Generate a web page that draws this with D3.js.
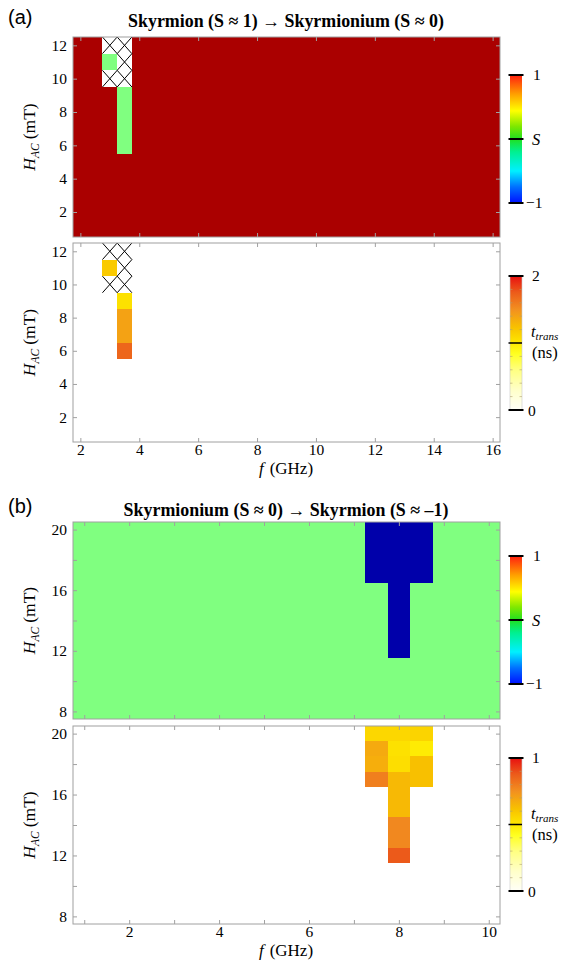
<!DOCTYPE html>
<html><head><meta charset="utf-8">
<script src="https://cdn.jsdelivr.net/npm/d3@7/dist/d3.min.js"></script>
<style>body{margin:0;background:#fff} svg{display:block}</style>
</head><body>
<svg id="c" width="563" height="967"></svg>
<script>
const X = "X";   // crossed (no result) cell
const _ = null;  // no transition / empty cell

// ---------- Panel (a) ----------
const titleA = "Skyrmion (S \u2248 1) \u2192 Skyrmionium (S \u2248 0)";
const freqA = [2,2.5,3,3.5,4,4.5,5,5.5,6,6.5,7,7.5,8,8.5,9,9.5,10,10.5,11,11.5,12,12.5,13,13.5,14,14.5,15,15.5,16];
const fieldA = [12,11,10,9,8,7,6,5,4,3,2,1];
const sA = [
  [1,1,X,X, 1,1,1,1,1, 1,1,1,1,1, 1,1,1,1,1, 1,1,1,1,1, 1,1,1,1,1],
  [1,1,0,X, 1,1,1,1,1, 1,1,1,1,1, 1,1,1,1,1, 1,1,1,1,1, 1,1,1,1,1],
  [1,1,X,X, 1,1,1,1,1, 1,1,1,1,1, 1,1,1,1,1, 1,1,1,1,1, 1,1,1,1,1],
  [1,1,1,0, 1,1,1,1,1, 1,1,1,1,1, 1,1,1,1,1, 1,1,1,1,1, 1,1,1,1,1],
  [1,1,1,0, 1,1,1,1,1, 1,1,1,1,1, 1,1,1,1,1, 1,1,1,1,1, 1,1,1,1,1],
  [1,1,1,0, 1,1,1,1,1, 1,1,1,1,1, 1,1,1,1,1, 1,1,1,1,1, 1,1,1,1,1],
  [1,1,1,0, 1,1,1,1,1, 1,1,1,1,1, 1,1,1,1,1, 1,1,1,1,1, 1,1,1,1,1],
  [1,1,1,1, 1,1,1,1,1, 1,1,1,1,1, 1,1,1,1,1, 1,1,1,1,1, 1,1,1,1,1],
  [1,1,1,1, 1,1,1,1,1, 1,1,1,1,1, 1,1,1,1,1, 1,1,1,1,1, 1,1,1,1,1],
  [1,1,1,1, 1,1,1,1,1, 1,1,1,1,1, 1,1,1,1,1, 1,1,1,1,1, 1,1,1,1,1],
  [1,1,1,1, 1,1,1,1,1, 1,1,1,1,1, 1,1,1,1,1, 1,1,1,1,1, 1,1,1,1,1],
  [1,1,1,1, 1,1,1,1,1, 1,1,1,1,1, 1,1,1,1,1, 1,1,1,1,1, 1,1,1,1,1]
];
const tA = [
  [_,_,X,X, _,_,_,_,_, _,_,_,_,_, _,_,_,_,_, _,_,_,_,_, _,_,_,_,_],
  [_,_,1.18,X, _,_,_,_,_, _,_,_,_,_, _,_,_,_,_, _,_,_,_,_, _,_,_,_,_],
  [_,_,X,X, _,_,_,_,_, _,_,_,_,_, _,_,_,_,_, _,_,_,_,_, _,_,_,_,_],
  [_,_,_,1.04, _,_,_,_,_, _,_,_,_,_, _,_,_,_,_, _,_,_,_,_, _,_,_,_,_],
  [_,_,_,1.40, _,_,_,_,_, _,_,_,_,_, _,_,_,_,_, _,_,_,_,_, _,_,_,_,_],
  [_,_,_,1.40, _,_,_,_,_, _,_,_,_,_, _,_,_,_,_, _,_,_,_,_, _,_,_,_,_],
  [_,_,_,1.70, _,_,_,_,_, _,_,_,_,_, _,_,_,_,_, _,_,_,_,_, _,_,_,_,_],
  [_,_,_,_, _,_,_,_,_, _,_,_,_,_, _,_,_,_,_, _,_,_,_,_, _,_,_,_,_],
  [_,_,_,_, _,_,_,_,_, _,_,_,_,_, _,_,_,_,_, _,_,_,_,_, _,_,_,_,_],
  [_,_,_,_, _,_,_,_,_, _,_,_,_,_, _,_,_,_,_, _,_,_,_,_, _,_,_,_,_],
  [_,_,_,_, _,_,_,_,_, _,_,_,_,_, _,_,_,_,_, _,_,_,_,_, _,_,_,_,_],
  [_,_,_,_, _,_,_,_,_, _,_,_,_,_, _,_,_,_,_, _,_,_,_,_, _,_,_,_,_]
];
const xTicksA = [2,4,6,8,10,12,14,16];
const xLabelsA = [2,4,6,8,10,12,14,16];
const yTicksA = [2,4,6,8,10,12];
const yLabelsA = [2,4,6,8,10,12];
const tMaxA = 2;
const tBarLabelsA = [0,2];

// ---------- Panel (b) ----------
const titleB = "Skyrmionium (S \u2248 0) \u2192 Skyrmion (S \u2248 \u20131)";
const freqB = [1,1.5,2,2.5,3,3.5,4,4.5,5,5.5,6,6.5,7,7.5,8,8.5,9,9.5,10];
const fieldB = [20,19,18,17,16,15,14,13,12,11,10,9,8];
const sB = [
  [0,0,0,0,0, 0,0,0,0,0, 0,0,0,-1,-1,-1,0,0,0],
  [0,0,0,0,0, 0,0,0,0,0, 0,0,0,-1,-1,-1,0,0,0],
  [0,0,0,0,0, 0,0,0,0,0, 0,0,0,-1,-1,-1,0,0,0],
  [0,0,0,0,0, 0,0,0,0,0, 0,0,0,-1,-1,-1,0,0,0],
  [0,0,0,0,0, 0,0,0,0,0, 0,0,0,0,-1,0,0,0,0],
  [0,0,0,0,0, 0,0,0,0,0, 0,0,0,0,-1,0,0,0,0],
  [0,0,0,0,0, 0,0,0,0,0, 0,0,0,0,-1,0,0,0,0],
  [0,0,0,0,0, 0,0,0,0,0, 0,0,0,0,-1,0,0,0,0],
  [0,0,0,0,0, 0,0,0,0,0, 0,0,0,0,-1,0,0,0,0],
  [0,0,0,0,0, 0,0,0,0,0, 0,0,0,0,0,0,0,0,0],
  [0,0,0,0,0, 0,0,0,0,0, 0,0,0,0,0,0,0,0,0],
  [0,0,0,0,0, 0,0,0,0,0, 0,0,0,0,0,0,0,0,0],
  [0,0,0,0,0, 0,0,0,0,0, 0,0,0,0,0,0,0,0,0]
];
const tB = [
  [_,_,_,_,_, _,_,_,_,_, _,_,_,0.55,0.55,0.56,_,_,_],
  [_,_,_,_,_, _,_,_,_,_, _,_,_,0.68,0.52,0.49,_,_,_],
  [_,_,_,_,_, _,_,_,_,_, _,_,_,0.67,0.53,0.62,_,_,_],
  [_,_,_,_,_, _,_,_,_,_, _,_,_,0.79,0.64,0.62,_,_,_],
  [_,_,_,_,_, _,_,_,_,_, _,_,_,_,0.64,_,_,_,_],
  [_,_,_,_,_, _,_,_,_,_, _,_,_,_,0.64,_,_,_,_],
  [_,_,_,_,_, _,_,_,_,_, _,_,_,_,0.77,_,_,_,_],
  [_,_,_,_,_, _,_,_,_,_, _,_,_,_,0.77,_,_,_,_],
  [_,_,_,_,_, _,_,_,_,_, _,_,_,_,0.88,_,_,_,_],
  [_,_,_,_,_, _,_,_,_,_, _,_,_,_,_,_,_,_,_],
  [_,_,_,_,_, _,_,_,_,_, _,_,_,_,_,_,_,_,_],
  [_,_,_,_,_, _,_,_,_,_, _,_,_,_,_,_,_,_,_],
  [_,_,_,_,_, _,_,_,_,_, _,_,_,_,_,_,_,_,_]
];
const xTicksB = [1,2,3,4,5,6,7,8,9,10];
const xLabelsB = [2,4,6,8,10];
const yTicksB = [8,10,12,14,16,18,20];
const yLabelsB = [8,12,16,20];
const tMaxB = 1;
const tBarLabelsB = [0,1];

// colour maps
const sCellDomain = [-1,0,1];
const sCellColors = ["#0000aa","#80ff80","#aa0000"];
const sBarStops = [[0,"#0010ff"],[0.125,"#0070ff"],[0.25,"#00f0ff"],[0.4,"#00f090"],[0.5,"#20e020"],[0.6,"#80e800"],[0.72,"#ffff00"],[0.85,"#ffa000"],[1,"#ff2010"]];
const tStops = [[0,"#fffff8"],[0.15,"#ffffc8"],[0.3,"#ffff80"],[0.42,"#ffff20"],[0.5,"#fee800"],[0.62,"#f8c000"],[0.75,"#f29020"],[0.88,"#ec5a1a"],[1,"#e81010"]];

const svg = d3.select("#c");
const defs = svg.append("defs");
const SERIF = "'Liberation Serif','Times New Roman',serif";
const SANS = "'Liberation Sans',Arial,sans-serif";
const FRAME = "#a0a0a0";

function gradient(id, stops){
  const g = defs.append("linearGradient").attr("id", id)
    .attr("x1",0).attr("y1",1).attr("x2",0).attr("y2",0);
  stops.forEach(s => g.append("stop").attr("offset", s[0]).attr("stop-color", s[1]));
}
gradient("gS", sBarStops);
gradient("gT", tStops);

const sColor = d3.scaleLinear().domain(sCellDomain).range(sCellColors);
function tColorFor(max){
  return d3.scaleLinear().domain(tStops.map(s => s[0]*max)).range(tStops.map(s => s[1])).clamp(true);
}

function heatmap(o){
  const step = o.freq[1]-o.freq[0];
  const x = d3.scaleLinear().domain([o.freq[0]-step/2, o.freq[o.freq.length-1]+step/2]).range([o.x0,o.x1]);
  const fmin = d3.min(o.field), fmax = d3.max(o.field);
  const y = d3.scaleLinear().domain([fmin-0.5, fmax+0.5]).range([o.y1,o.y0]);
  const g = svg.append("g");
  const cells = [];
  o.values.forEach((row,i) => row.forEach((v,j) => {
    if (v !== null) cells.push({f:o.freq[j], h:o.field[i], v});
  }));
  const cg = g.append("g").attr("shape-rendering","crispEdges");
  cg.selectAll("rect").data(cells).join("rect")
    .attr("x", d => x(d.f-step/2)).attr("y", d => y(d.h+0.5))
    .attr("width", d => x(d.f+step/2)-x(d.f-step/2))
    .attr("height", d => y(d.h-0.5)-y(d.h+0.5))
    .attr("fill", d => d.v === X ? "#fff" : o.color(d.v));
  const crossed = cells.filter(d => d.v === X);
  const xg = g.append("g").attr("stroke","#000").attr("stroke-width",1);
  crossed.forEach(d => {
    const a = x(d.f-step/2), b = x(d.f+step/2), c = y(d.h+0.5), e = y(d.h-0.5);
    xg.append("line").attr("x1",a).attr("y1",c).attr("x2",b).attr("y2",e);
    xg.append("line").attr("x1",a).attr("y1",e).attr("x2",b).attr("y2",c);
  });
  g.append("rect").attr("x",o.x0).attr("y",o.y0).attr("width",o.x1-o.x0).attr("height",o.y1-o.y0)
    .attr("fill","none").attr("stroke",FRAME).attr("stroke-width",1);
  const fmtX = d => o.xLabels.includes(d) ? d : "";
  const fmtY = d => o.yLabels.includes(d) ? d : "";
  const axes = [
    [d3.axisLeft(y).tickValues(o.yTicks).tickFormat(fmtY), `translate(${o.x0},0)`, "l"],
    [d3.axisRight(y).tickValues(o.yTicks).tickFormat(""), `translate(${o.x1},0)`, "r"],
    [d3.axisTop(x).tickValues(o.xTicks).tickFormat(""), `translate(0,${o.y0})`, "t"],
    [d3.axisBottom(x).tickValues(o.xTicks).tickFormat(o.showX ? fmtX : ""), `translate(0,${o.y1})`, "b"]
  ];
  axes.forEach(([ax,tr,side]) => {
    const a = g.append("g").attr("transform",tr)
      .call(ax.tickSizeInner(-4).tickSizeOuter(0).tickPadding(side === "b" ? 2 : 6));
    a.select(".domain").remove();
    a.selectAll(".tick line").attr("stroke",FRAME);
    a.selectAll(".tick text").attr("font-family",SERIF).attr("font-size",15.5).attr("fill","#000");
  });
  const yl = g.append("text").attr("transform",`translate(${o.ylx},${(o.y0+o.y1)/2}) rotate(-90)`)
    .attr("text-anchor","middle").attr("font-family",SERIF).attr("font-size",17.5);
  yl.append("tspan").attr("font-style","italic").text("H");
  yl.append("tspan").attr("font-style","italic").attr("font-size",11.5).attr("dy",4).text("AC");
  yl.append("tspan").attr("dy",-4).attr("dx",4).text("(mT)");
  return {x,y};
}

function sBar(x0,y0,y1){
  const w = 12, g = svg.append("g");
  const s = d3.scaleLinear().domain([-1,1]).range([y1,y0]);
  g.append("rect").attr("x",x0).attr("y",y0).attr("width",w).attr("height",y1-y0).attr("fill","url(#gS)");
  [-1,0,1].forEach(v => g.append("line").attr("x1",x0-1.5).attr("x2",x0+w+1.5)
    .attr("y1",s(v)).attr("y2",s(v)).attr("stroke","#000").attr("stroke-width",2));
  g.append("text").attr("x",x0+23).attr("y",s(1)+5).attr("font-family",SERIF).attr("font-size",15.5).text("1");
  g.append("text").attr("x",x0+16).attr("y",s(-1)+5).attr("font-family",SERIF).attr("font-size",15.5).text("\u22121");
  g.append("text").attr("x",x0+22).attr("y",s(0)+6).attr("font-family",SERIF).attr("font-size",16.5)
    .attr("font-style","italic").text("S");
}

function tBar(x0,y0,y1,max,labels){
  const w = 12, g = svg.append("g");
  const s = d3.scaleLinear().domain([0,max]).range([y1,y0]);
  g.append("rect").attr("x",x0).attr("y",y0).attr("width",w).attr("height",y1-y0)
    .attr("fill","url(#gT)").attr("stroke","#c8c8c8").attr("stroke-width",0.6);
  d3.range(1,10).forEach(k => {
    const yy = s(max*k/10);
    g.append("line").attr("x1",x0).attr("x2",x0+2.5).attr("y1",yy).attr("y2",yy).attr("stroke","#b0a070").attr("stroke-width",0.6);
    g.append("line").attr("x1",x0+w-2.5).attr("x2",x0+w).attr("y1",yy).attr("y2",yy).attr("stroke","#b0a070").attr("stroke-width",0.6);
  });
  [0,max/2,max].forEach(v => g.append("line").attr("x1",x0-1.5).attr("x2",x0+w+(v===max/2?0:1.5))
    .attr("y1",s(v)).attr("y2",s(v)).attr("stroke","#000").attr("stroke-width",v===max/2?1.5:2));
  g.append("text").attr("x",x0+22).attr("y",s(labels[1])+5).attr("font-family",SERIF).attr("font-size",15.5).text(labels[1]);
  g.append("text").attr("x",x0+18).attr("y",s(labels[0])+6).attr("font-family",SERIF).attr("font-size",15.5).text(labels[0]);
  const t = g.append("text").attr("x",x0+21).attr("y",s(max/2)-6).attr("font-family",SERIF).attr("font-size",16.5);
  t.append("tspan").attr("font-style","italic").text("t");
  t.append("tspan").attr("font-style","italic").attr("font-size",11).attr("dy",3).text("trans");
  g.append("text").attr("x",x0+22).attr("y",s(max/2)+15).attr("font-family",SERIF).attr("font-size",16.5).text("(ns)");
}

function label(txt,x,y){
  svg.append("text").attr("x",x).attr("y",y).attr("font-family",SANS).attr("font-size",20).text(txt);
}
function title(txt,x,y){
  svg.append("text").attr("x",x).attr("y",y).attr("text-anchor","middle").attr("font-family",SERIF)
    .attr("font-weight","bold").attr("font-size",17.9).text(txt);
}
function xlabel(x,y){
  const t = svg.append("text").attr("x",x).attr("y",y).attr("text-anchor","middle").attr("font-family",SERIF).attr("font-size",17);
  t.append("tspan").attr("font-style","italic").text("f");
  t.append("tspan").attr("dx",6).text("(GHz)");
}

// Panel (a)
label("(a)",8,24);
title(titleA,286,27);
heatmap({freq:freqA, field:fieldA, values:sA, color:sColor, x0:73, x1:500, y0:37, y1:237,
  xTicks:xTicksA, xLabels:xLabelsA, yTicks:yTicksA, yLabels:yLabelsA, showX:false, ylx:35});
sBar(510,75,203);
heatmap({freq:freqA, field:fieldA, values:tA, color:tColorFor(tMaxA), x0:73, x1:500, y0:243, y1:442,
  xTicks:xTicksA, xLabels:xLabelsA, yTicks:yTicksA, yLabels:yLabelsA, showX:true, ylx:35});
tBar(510,276,410,tMaxA,tBarLabelsA);
xlabel(286,474);

// Panel (b)
label("(b)",8,513);
title(titleB,286,516);
heatmap({freq:freqB, field:fieldB, values:sB, color:sColor, x0:73, x1:500, y0:522, y1:719,
  xTicks:xTicksB, xLabels:xLabelsB, yTicks:yTicksB, yLabels:yLabelsB, showX:false, ylx:35});
sBar(510,556,684);
heatmap({freq:freqB, field:fieldB, values:tB, color:tColorFor(tMaxB), x0:73, x1:500, y0:726, y1:924,
  xTicks:xTicksB, xLabels:xLabelsB, yTicks:yTicksB, yLabels:yLabelsB, showX:true, ylx:35});
tBar(510,758,891,tMaxB,tBarLabelsB);
xlabel(286,956);
</script>
</body></html>
